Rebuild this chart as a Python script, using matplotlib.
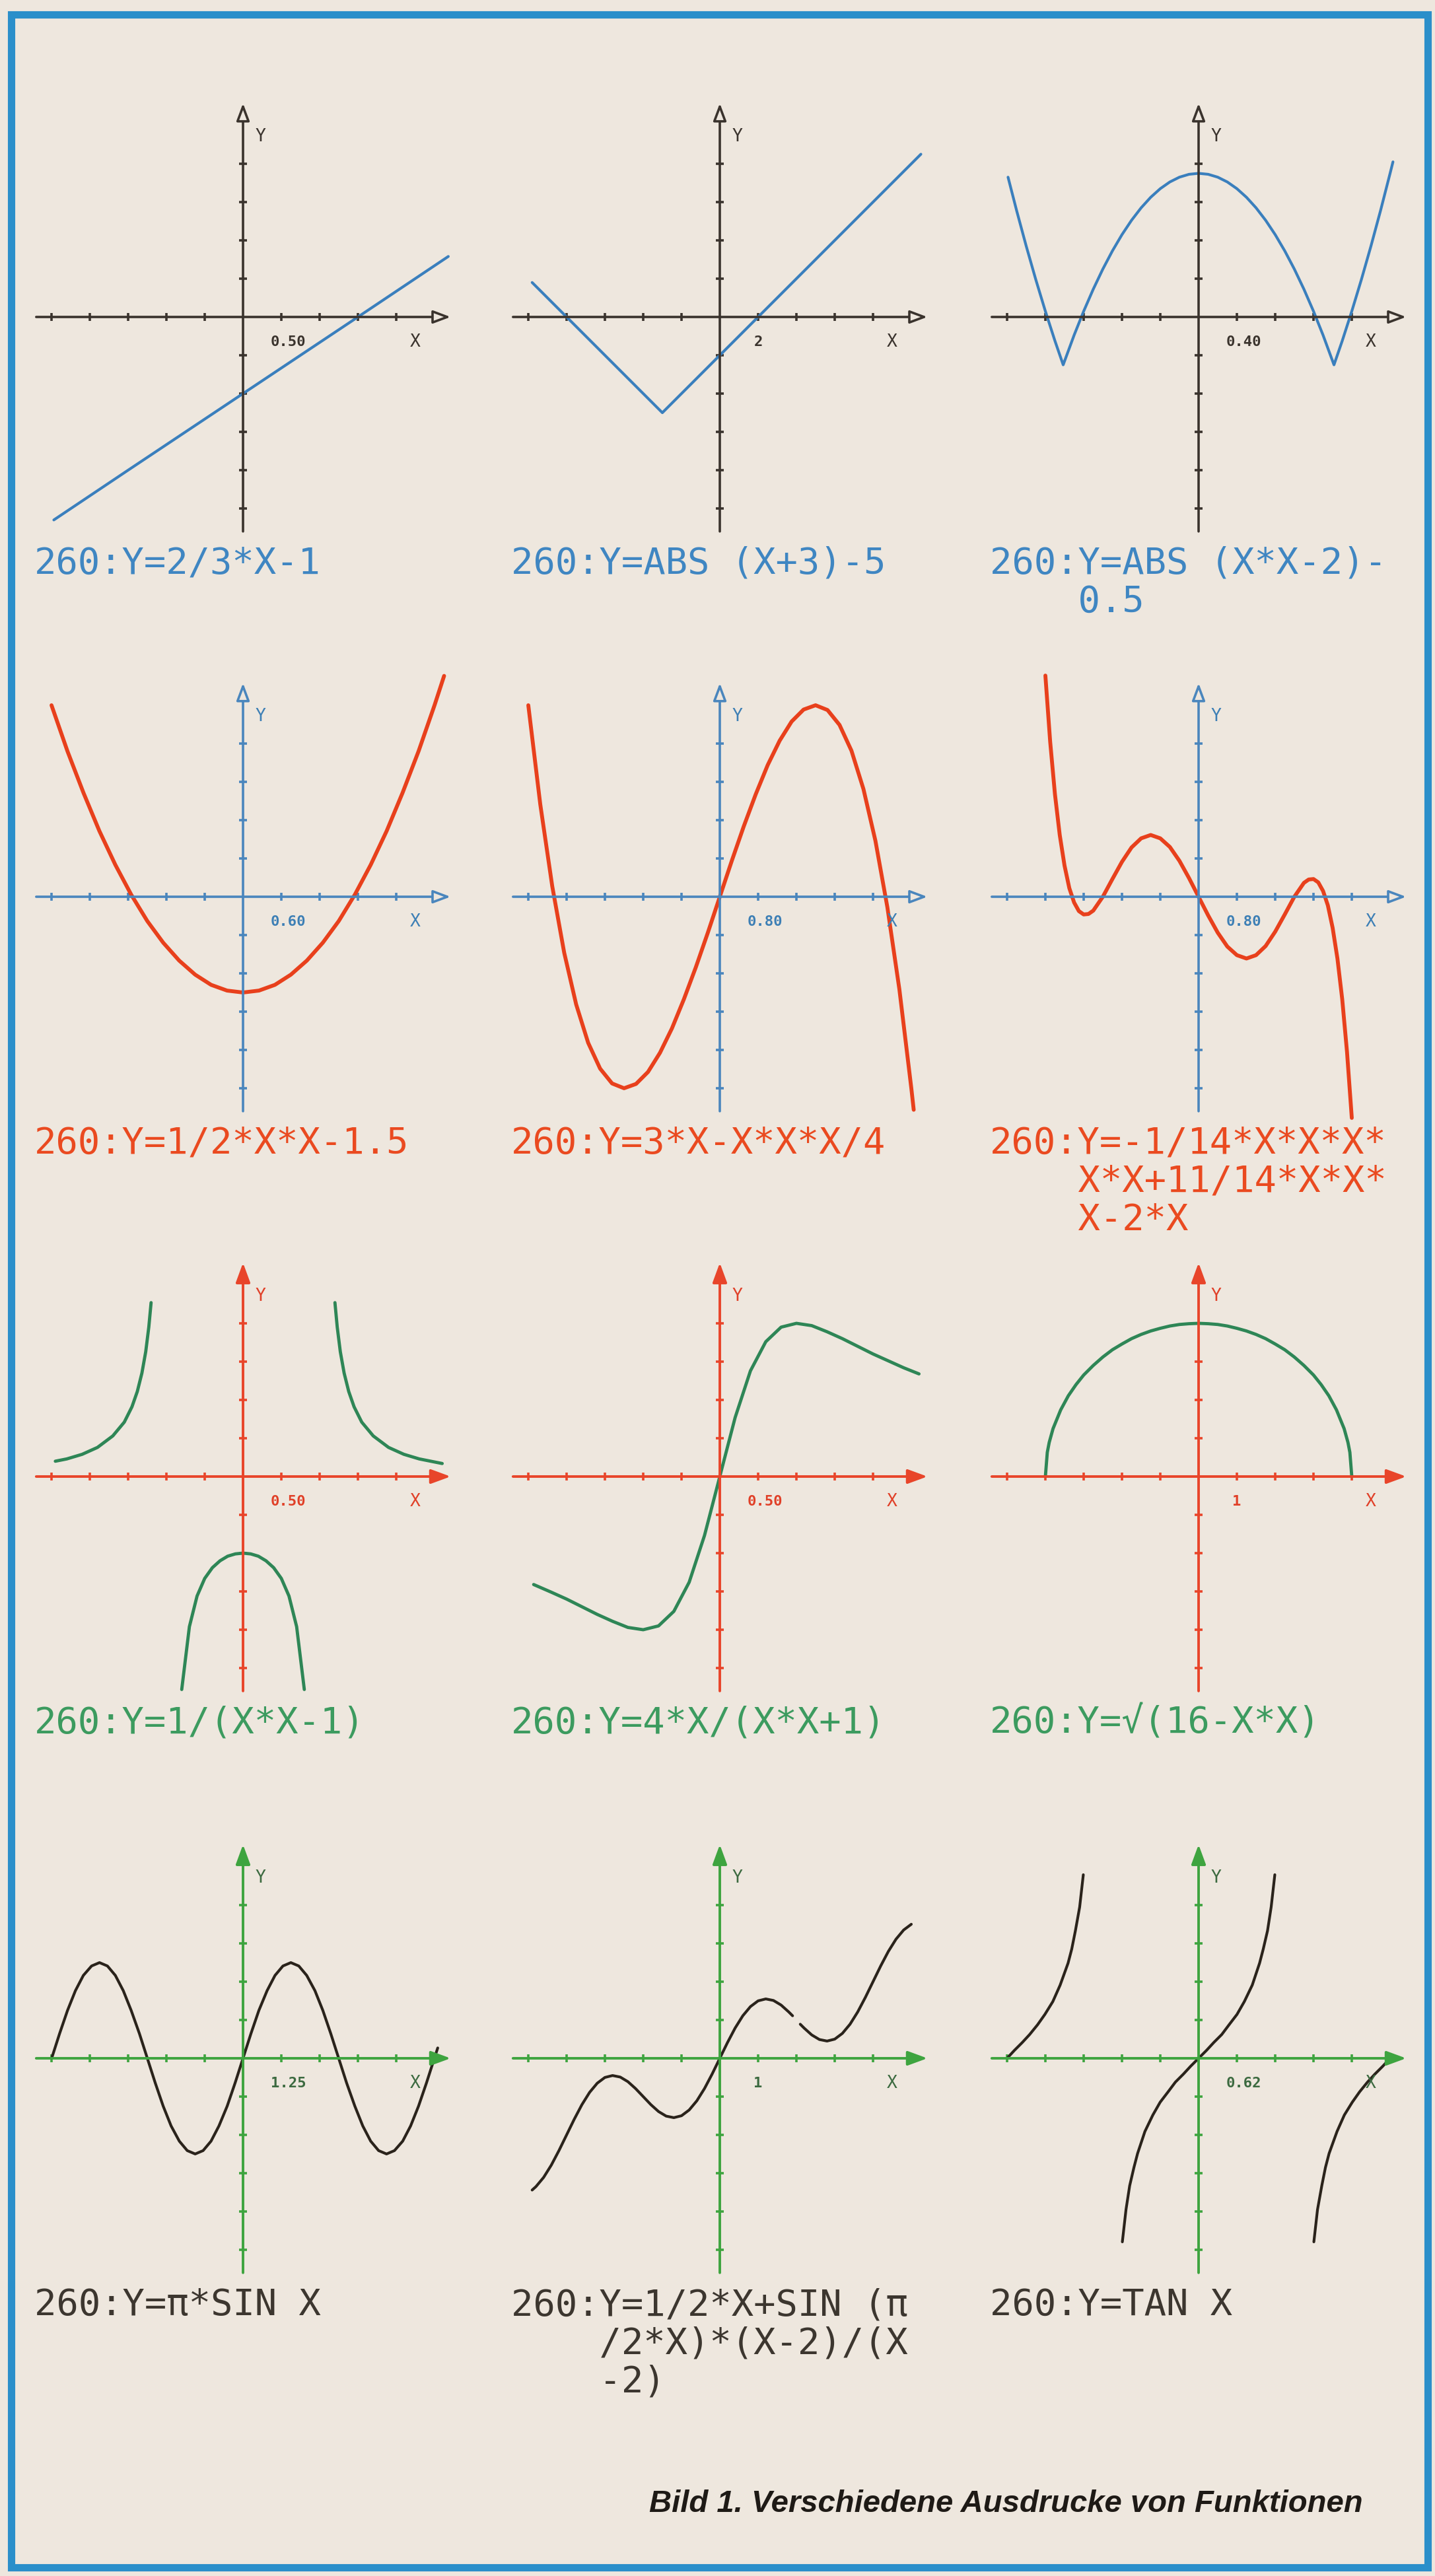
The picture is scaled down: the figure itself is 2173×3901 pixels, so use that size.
import matplotlib
matplotlib.use("Agg")
import matplotlib.pyplot as plt
import numpy as np
from matplotlib.patches import Rectangle

# ---- data (function values per panel) ----
a_x = [-2.47, -1.5, 0.0, 1.5, 2.68]
a_y = [-2.65, -2.0, -1.0, 0.0, 0.79]

b_x = [-9.8, -8.0, -3.0, 2.0, 10.5]
b_y = [1.8, 0.0, -5.0, 0.0, 8.5]

c_x = [-1.99, -1.9, -1.8, -1.7, -1.6, -1.5, -1.414, -1.3, -1.2, -1.1, -1.0,
       -0.9, -0.8, -0.7, -0.6, -0.5, -0.4, -0.3, -0.2, -0.1, 0.0,
       0.1, 0.2, 0.3, 0.4, 0.5, 0.6, 0.7, 0.8, 0.9, 1.0,
       1.1, 1.2, 1.3, 1.414, 1.5, 1.6, 1.7, 1.8, 1.9, 2.0, 2.03]
c_y = [1.46, 1.11, 0.74, 0.39, 0.06, -0.25, -0.5, -0.19, 0.06, 0.29, 0.5,
       0.69, 0.86, 1.01, 1.14, 1.25, 1.34, 1.41, 1.46, 1.49, 1.5,
       1.49, 1.46, 1.41, 1.34, 1.25, 1.14, 1.01, 0.86, 0.69, 0.5,
       0.29, 0.06, -0.19, -0.5, -0.25, 0.06, 0.39, 0.74, 1.11, 1.5, 1.62]

d_x = [-3.0, -2.75, -2.5, -2.25, -2.0, -1.75, -1.5, -1.25, -1.0, -0.75, -0.5,
       -0.25, 0.0, 0.25, 0.5, 0.75, 1.0, 1.25, 1.5, 1.75, 2.0, 2.25, 2.5,
       2.75, 3.0, 3.15]
d_y = [3.0, 2.28, 1.63, 1.03, 0.5, 0.03, -0.38, -0.72, -1.0, -1.22, -1.38,
       -1.47, -1.5, -1.47, -1.38, -1.22, -1.0, -0.72, -0.38, 0.03, 0.5, 1.03,
       1.63, 2.28, 3.0, 3.46]

e_x = [-4.0, -3.75, -3.5, -3.25, -3.0, -2.75, -2.5, -2.25, -2.0, -1.75, -1.5,
       -1.25, -1.0, -0.75, -0.5, -0.25, 0.0, 0.25, 0.5, 0.75, 1.0, 1.25, 1.5,
       1.75, 2.0, 2.25, 2.5, 2.75, 3.0, 3.25, 3.5, 3.75, 4.0, 4.05]
e_y = [4.0, 1.93, 0.22, -1.17, -2.25, -3.05, -3.59, -3.9, -4.0, -3.91, -3.66,
       -3.26, -2.75, -2.14, -1.47, -0.75, 0.0, 0.75, 1.47, 2.14, 2.75, 3.26,
       3.66, 3.91, 4.0, 3.9, 3.59, 3.05, 2.25, 1.17, -0.22, -1.93, -4.0, -4.45]

f_x = [-3.2, -3.1, -3.0, -2.9, -2.8, -2.7, -2.6, -2.5, -2.4, -2.3, -2.2, -2.0,
       -1.8, -1.6, -1.4, -1.2, -1.0, -0.8, -0.6, -0.4, -0.2, 0.0, 0.2, 0.4,
       0.6, 0.8, 1.0, 1.2, 1.4, 1.6, 1.8, 2.0, 2.2, 2.3, 2.4, 2.5, 2.6, 2.7,
       2.8, 2.9, 3.0, 3.1, 3.2]
f_y = [4.62, 3.24, 2.14, 1.29, 0.65, 0.18, -0.12, -0.3, -0.37, -0.36, -0.29,
       0.0, 0.37, 0.73, 1.03, 1.22, 1.29, 1.22, 1.04, 0.75, 0.39, 0.0, -0.39,
       -0.75, -1.04, -1.22, -1.29, -1.22, -1.03, -0.73, -0.37, 0.0, 0.29,
       0.36, 0.37, 0.3, 0.12, -0.18, -0.65, -1.29, -2.14, -3.24, -4.62]

g_left_x = [-2.45, -2.3, -2.1, -1.9, -1.7, -1.55, -1.45, -1.38, -1.32, -1.27,
            -1.23, -1.2]
g_left_y = [0.2, 0.23, 0.29, 0.38, 0.53, 0.71, 0.91, 1.11, 1.35, 1.63, 1.95,
            2.27]
g_mid_x = [-0.8, -0.7, -0.6, -0.5, -0.4, -0.3, -0.2, -0.1, 0.0, 0.1, 0.2, 0.3,
           0.4, 0.5, 0.6, 0.7, 0.8]
g_mid_y = [-2.78, -1.96, -1.56, -1.33, -1.19, -1.1, -1.04, -1.01, -1.0, -1.01,
           -1.04, -1.1, -1.19, -1.33, -1.56, -1.96, -2.78]
g_right_x = [1.2, 1.23, 1.27, 1.32, 1.38, 1.45, 1.55, 1.7, 1.9, 2.1, 2.3, 2.45,
             2.6]
g_right_y = [2.27, 1.95, 1.63, 1.35, 1.11, 0.91, 0.71, 0.53, 0.38, 0.29, 0.23,
             0.2, 0.17]

h_x = [-2.43, -2.2, -2.0, -1.8, -1.6, -1.4, -1.2, -1.0, -0.8, -0.6, -0.4,
       -0.2, 0.0, 0.2, 0.4, 0.6, 0.8, 1.0, 1.2, 1.4, 1.6, 1.8, 2.0, 2.2, 2.4,
       2.6]
h_y = [-1.41, -1.51, -1.6, -1.7, -1.8, -1.89, -1.97, -2.0, -1.95, -1.76,
       -1.38, -0.77, 0.0, 0.77, 1.38, 1.76, 1.95, 2.0, 1.97, 1.89, 1.8, 1.7,
       1.6, 1.51, 1.42, 1.34]

i_x = [-4.0, -3.95, -3.9, -3.8, -3.6, -3.4, -3.2, -3.0, -2.75, -2.5, -2.25,
       -2.0, -1.75, -1.5, -1.25, -1.0, -0.75, -0.5, -0.25, 0.0, 0.25, 0.5,
       0.75, 1.0, 1.25, 1.5, 1.75, 2.0, 2.25, 2.5, 2.75, 3.0, 3.2, 3.4, 3.6,
       3.8, 3.9, 3.95, 4.0]
i_y = [0.0, 0.63, 0.89, 1.25, 1.74, 2.11, 2.4, 2.65, 2.9, 3.12, 3.31, 3.46,
       3.6, 3.71, 3.8, 3.87, 3.93, 3.97, 3.99, 4.0, 3.99, 3.97, 3.93, 3.87,
       3.8, 3.71, 3.6, 3.46, 3.31, 3.12, 2.9, 2.65, 2.4, 2.11, 1.74, 1.25,
       0.89, 0.63, 0.0]

j_x = [-6.28, -6.02, -5.76, -5.50, -5.24, -4.97, -4.71, -4.45, -4.19, -3.93,
       -3.67, -3.40, -3.14, -2.88, -2.62, -2.36, -2.09, -1.83, -1.57, -1.31,
       -1.05, -0.79, -0.52, -0.26, 0.0, 0.26, 0.52, 0.79, 1.05, 1.31, 1.57,
       1.83, 2.09, 2.36, 2.62, 2.88, 3.14, 3.40, 3.67, 3.93, 4.19, 4.45, 4.71,
       4.97, 5.24, 5.50, 5.76, 6.02, 6.28, 6.39]
j_y = [0.0, 0.81, 1.57, 2.22, 2.72, 3.03, 3.14, 3.03, 2.72, 2.22, 1.57, 0.81,
       0.0, -0.81, -1.57, -2.22, -2.72, -3.03, -3.14, -3.03, -2.72, -2.22,
       -1.57, -0.81, 0.0, 0.81, 1.57, 2.22, 2.72, 3.03, 3.14, 3.03, 2.72, 2.22,
       1.57, 0.81, 0.0, -0.81, -1.57, -2.22, -2.72, -3.03, -3.14, -3.03, -2.72,
       -2.22, -1.57, -0.81, 0.0, 0.34]

k_left_x = [-4.9, -4.8, -4.6, -4.4, -4.2, -4.0, -3.8, -3.6, -3.4, -3.2, -3.0,
            -2.8, -2.6, -2.4, -2.2, -2.0, -1.8, -1.6, -1.4, -1.2, -1.0, -0.8,
            -0.6, -0.4, -0.2, 0.0, 0.2, 0.4, 0.6, 0.8, 1.0, 1.2, 1.4, 1.6, 1.8,
            1.9]
k_left_y = [-3.44, -3.35, -3.11, -2.79, -2.41, -2.0, -1.59, -1.21, -0.89,
            -0.65, -0.5, -0.45, -0.49, -0.61, -0.79, -1.0, -1.21, -1.39, -1.51,
            -1.55, -1.5, -1.35, -1.11, -0.79, -0.41, 0.0, 0.41, 0.79, 1.11,
            1.35, 1.5, 1.55, 1.51, 1.39, 1.21, 1.11]
k_right_x = [2.1, 2.2, 2.4, 2.6, 2.8, 3.0, 3.2, 3.4, 3.6, 3.8, 4.0, 4.2, 4.4,
             4.6, 4.8, 5.0]
k_right_y = [0.89, 0.79, 0.61, 0.49, 0.45, 0.5, 0.65, 0.89, 1.21, 1.59, 2.0,
             2.41, 2.79, 3.11, 3.35, 3.5]

l_left_x = [-3.14, -3.02, -2.89, -2.77, -2.64, -2.52, -2.39, -2.27, -2.14,
            -2.08, -2.02, -1.95, -1.89]
l_left_y = [0.0, 0.13, 0.26, 0.39, 0.55, 0.72, 0.93, 1.2, 1.56, 1.79, 2.09,
            2.48, 3.01]
l_mid_x = [-1.25, -1.19, -1.13, -1.06, -1.0, -0.88, -0.75, -0.63, -0.5, -0.38,
           -0.25, -0.13, 0.0, 0.13, 0.25, 0.38, 0.5, 0.63, 0.75, 0.88, 1.0,
           1.06, 1.13, 1.19, 1.25]
l_mid_y = [-3.01, -2.48, -2.09, -1.79, -1.56, -1.2, -0.93, -0.72, -0.55,
           -0.39, -0.26, -0.13, 0.0, 0.13, 0.26, 0.39, 0.55, 0.72, 0.93, 1.2,
           1.56, 1.79, 2.09, 2.48, 3.01]
l_right_x = [1.89, 1.95, 2.02, 2.08, 2.14, 2.27, 2.39, 2.52, 2.64, 2.77, 2.89,
             3.02, 3.14]
l_right_y = [-3.01, -2.48, -2.09, -1.79, -1.56, -1.2, -0.93, -0.72, -0.55,
             -0.39, -0.26, -0.13, 0.0]

# one tick step per panel (same on both axes) and the printed tick label
tick_units = [0.5, 2.0, 0.4, 0.6, 0.8, 0.8, 0.5, 0.5, 1.0, 1.257, 1.0, 0.628]
tick_labels = ["0.50", "2", "0.40", "0.60", "0.80", "0.80",
               "0.50", "0.50", "1", "1.25", "1", "0.62"]
captions = [
    ["260:Y=2/3*X-1"],
    ["260:Y=ABS (X+3)-5"],
    ["260:Y=ABS (X*X-2)-", "    0.5"],
    ["260:Y=1/2*X*X-1.5"],
    ["260:Y=3*X-X*X*X/4"],
    ["260:Y=-1/14*X*X*X*", "    X*X+11/14*X*X*", "    X-2*X"],
    ["260:Y=1/(X*X-1)"],
    ["260:Y=4*X/(X*X+1)"],
    ["260:Y=√(16-X*X)"],
    ["260:Y=π*SIN X"],
    ["260:Y=1/2*X+SIN (π", "    /2*X)*(X-2)/(X", "    -2)"],
    ["260:Y=TAN X"],
]
figure_title = "Bild 1. Verschiedene Ausdrucke von Funktionen"

segments = [
    [(a_x, a_y)], [(b_x, b_y)], [(c_x, c_y)],
    [(d_x, d_y)], [(e_x, e_y)], [(f_x, f_y)],
    [(g_left_x, g_left_y), (g_mid_x, g_mid_y), (g_right_x, g_right_y)],
    [(h_x, h_y)], [(i_x, i_y)],
    [(j_x, j_y)], [(k_left_x, k_left_y), (k_right_x, k_right_y)],
    [(l_left_x, l_left_y), (l_mid_x, l_mid_y), (l_right_x, l_right_y)],
]

# ---- styling / layout ----
W, H = 2173, 3901
TICK = 58.0
col_x = [368, 1090, 1815]
row_y = [480, 1358, 2236, 3117]
bg = "#eee7de"
frame_col = "#2b8fca"
row_curve = ["#3a7fbd", "#e8401c", "#2e8656", "#2a231b"]
row_axis = ["#3a332d", "#4a86bd", "#e8452a", "#3ea43f"]
row_caption = ["#3f86c2", "#ea4a20", "#3c9b5f", "#3c362f"]
row_label = ["#3a332d", "#3d7fb5", "#e04028", "#3c6a40"]
row_lw = [3.0, 4.2, 3.5, 3.0]
row_open_head = [True, True, False, False]
mono = "DejaVu Sans Mono"

fig = plt.figure(figsize=(W / 100, H / 100), dpi=100)
fig.patch.set_facecolor(bg)

fig.add_artist(Rectangle((17 / W, 1 - 3888 / H), (2162 - 17) / W, (3888 - 22) / H,
                         transform=fig.transFigure, fill=False,
                         edgecolor=frame_col, lw=8))

for i, segs in enumerate(segments):
    r, c = divmod(i, 3)
    ox, oy = col_x[c], row_y[r]
    u = tick_units[i]
    ax = fig.add_axes([(ox - 5.7 * TICK) / W, 1 - (oy + 6.2 * TICK) / H,
                       11.7 * TICK / W, 12.4 * TICK / H])
    ax.set_xlim(-5.7 * u, 6.0 * u)
    ax.set_ylim(-6.2 * u, 6.2 * u)
    ax.set_axis_off()
    ax.patch.set_alpha(0)

    axc = row_axis[r]
    if row_open_head[r]:
        head = "-|>,head_length=0.8,head_width=0.3"
        props = dict(arrowstyle=head, fc=bg, ec=axc, lw=2.6,
                     shrinkA=0, shrinkB=0, mutation_scale=20)
    else:
        head = "-|>,head_length=0.9,head_width=0.33"
        props = dict(arrowstyle=head, color=axc, lw=2.8,
                     shrinkA=0, shrinkB=0, mutation_scale=20)
    ax.annotate("", xy=(5.42 * u, 0), xytext=(-5.4 * u, 0), arrowprops=props)
    ax.annotate("", xy=(0, 5.58 * u), xytext=(0, -5.6 * u), arrowprops=props)
    ticks = np.array([k for k in range(-5, 5) if k != 0]) * u
    ax.plot(ticks, np.zeros_like(ticks), ls="none", marker="|", ms=9,
            mew=2.6, color=axc)
    ax.plot(np.zeros_like(ticks), ticks, ls="none", marker="_", ms=9,
            mew=2.6, color=axc)

    lab = tick_labels[i]
    lc = row_label[r]
    ax.text((1.0 + 0.06 * (len(lab) - 1)) * u, -0.66 * u, lab, ha="center",
            va="center", family=mono, fontsize=16, fontweight="bold", color=lc)
    ax.text(4.5 * u, -0.66 * u, "X", ha="center", va="center", family=mono,
            fontsize=19, color=lc)
    ax.text(0.46 * u, 4.7 * u, "Y", ha="center", va="center", family=mono,
            fontsize=19, color=lc)

    for xs, ys in segs:
        ax.plot(xs, ys, color=row_curve[r], lw=row_lw[r], clip_on=False,
                solid_capstyle="round", solid_joinstyle="round")

    for j, line in enumerate(captions[i]):
        fig.text((ox - 316) / W, 1 - (oy + 389 + 58 * j) / H, line,
                 family=[mono, "DejaVu Sans"], fontsize=40,
                 color=row_caption[r], ha="left", va="baseline")

fig.text(2064 / W, 1 - 3804 / H, figure_title, ha="right", va="baseline",
         family="Liberation Sans", fontsize=34, fontweight="bold",
         fontstyle="italic", color="#1e1a16")

fig.savefig("out.png", dpi=100, facecolor=bg)
